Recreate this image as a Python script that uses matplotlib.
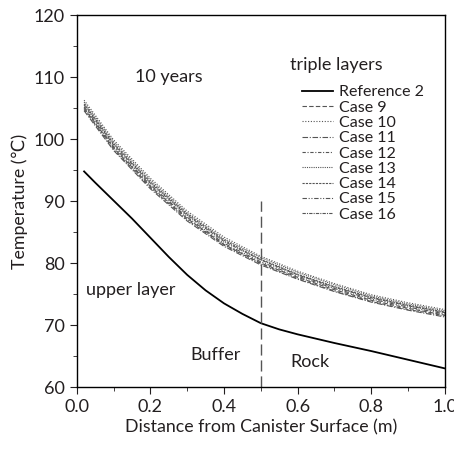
import matplotlib
matplotlib.use("Agg")
import matplotlib.pyplot as plt
from matplotlib.ticker import MultipleLocator

plt.rcParams['font.family'] = ['Lato', 'DejaVu Sans']

# reference curve (single layer)
x_ref = [0.02, 0.05, 0.1, 0.15, 0.2, 0.25, 0.3, 0.35, 0.4, 0.45, 0.5,
         0.55, 0.6, 0.7, 0.8, 0.9, 1.0]
t_ref = [94.8, 93.0, 90.1, 87.2, 84.1, 81.0, 78.1, 75.6, 73.5, 71.8, 70.3,
         69.3, 68.5, 67.1, 65.8, 64.4, 63.0]

# triple layer cases
x_case = [0.02, 0.1, 0.2, 0.3, 0.4, 0.5, 0.6, 0.7, 0.8, 0.9, 1.0]
case9 = [105.0, 98.6, 92.4, 87.2, 83.0, 80.0, 77.7, 75.7, 74.0, 72.7, 71.6]
case10 = [106.3, 99.9, 93.7, 88.4, 84.2, 81.1, 78.7, 76.7, 74.9, 73.6, 72.5]
case11 = [104.6, 98.2, 92.0, 86.8, 82.7, 79.7, 77.4, 75.4, 73.7, 72.4, 71.3]
case12 = [104.8, 98.4, 92.2, 87.0, 82.9, 79.9, 77.5, 75.5, 73.8, 72.5, 71.5]
case13 = [106.0, 99.6, 93.4, 88.1, 83.9, 80.9, 78.5, 76.5, 74.7, 73.4, 72.3]
case14 = [105.7, 99.3, 93.1, 87.9, 83.7, 80.6, 78.2, 76.2, 74.5, 73.2, 72.1]
case15 = [105.2, 98.8, 92.6, 87.4, 83.2, 80.2, 77.9, 75.9, 74.2, 72.9, 71.8]
case16 = [105.5, 99.1, 92.9, 87.7, 83.5, 80.5, 78.1, 76.1, 74.4, 73.1, 72.0]

case_names = ['Case 9', 'Case 10', 'Case 11', 'Case 12',
              'Case 13', 'Case 14', 'Case 15', 'Case 16']
cases = [case9, case10, case11, case12, case13, case14, case15, case16]
dashes = [(4, 2), (1, 1.5), (5, 1.5, 1, 1.5), (3, 1.5, 1, 1.5),
          (1, 1), (2, 1), (4, 1.5, 1, 1.5, 1, 1.5), (3, 1, 1, 1)]

txt = '#231f20'

fig = plt.figure(figsize=(4.54, 4.5), dpi=100)
ax = fig.add_axes([0.169, 0.140, 0.811, 0.826])

ax.plot(x_ref, t_ref, color='black', lw=1.3, label='Reference 2')
for name, vals, d in zip(case_names, cases, dashes):
    ax.plot(x_case, vals, color='#555555', lw=0.8, dashes=d, label=name)

# buffer / rock boundary
ax.plot([0.5, 0.5], [60, 90], color='#555555', lw=1.0, dashes=(8, 3.5))

ax.set_xlim(0, 1.0)
ax.set_ylim(60, 120)
ax.xaxis.set_major_locator(MultipleLocator(0.2))
ax.xaxis.set_minor_locator(MultipleLocator(0.1))
ax.yaxis.set_major_locator(MultipleLocator(10))
ax.yaxis.set_minor_locator(MultipleLocator(5))
ax.xaxis.set_major_formatter(matplotlib.ticker.FormatStrFormatter('%.1f'))
ax.tick_params(which='both', direction='out', top=False, right=False,
               labelsize=13, color=txt, labelcolor=txt)
ax.tick_params(which='major', length=5)
ax.tick_params(which='minor', length=3)
for s in ax.spines.values():
    s.set_linewidth(1.0)

ax.set_xlabel('Distance from Canister Surface (m)', fontsize=12.8, color=txt, labelpad=3)
ax.set_ylabel('Temperature (\u2103)', fontsize=12.8, color=txt, labelpad=4)

ax.text(0.25, 110, '10 years', fontsize=13, ha='center', va='center', color=txt)
ax.text(0.58, 112, 'triple layers', fontsize=13, ha='left', va='center', color=txt)
ax.text(0.025, 75.7, 'upper layer', fontsize=13, ha='left', va='center', color=txt)
ax.text(0.31, 65.2, 'Buffer', fontsize=13, ha='left', va='center', color=txt)
ax.text(0.58, 64.0, 'Rock', fontsize=13, ha='left', va='center', color=txt)

leg = ax.legend(loc='upper left', bbox_to_anchor=(0.612, 0.812), frameon=False,
                fontsize=11.5, handlelength=1.95, handletextpad=0.38,
                labelspacing=0.07, borderaxespad=0, borderpad=0)
for t in leg.get_texts():
    t.set_color(txt)

fig.savefig('out.png', dpi=100)
